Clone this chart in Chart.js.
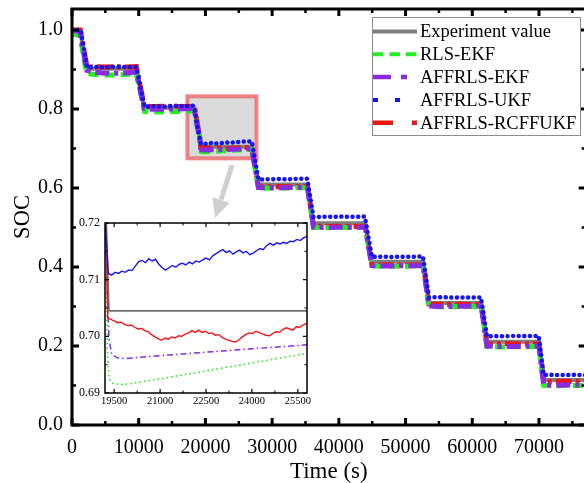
<!DOCTYPE html>
<html>
<head>
<meta charset="utf-8">
<script src="https://cdn.jsdelivr.net/npm/chart.js@4.4.1/dist/chart.umd.min.js"></script>
<style>
  html, body { margin: 0; padding: 0; background: #fff; overflow: hidden; }
  #wrap { position: relative; width: 584px; height: 483px; overflow: hidden; background: #fff; }
  #main { position: absolute; left: 0; top: 0; width: 600px; height: 483px; }
  #inset { position: absolute; left: 68px; top: 213px; width: 245px; height: 197px; }
</style>
</head>
<body>
<div id="wrap">
  <canvas id="main" width="600" height="483"></canvas>
  <canvas id="inset" width="245" height="197"></canvas>
</div>
<script>
// ---- SOC traces (time in s) ----
const seriesNames = ['Experiment value', 'RLS-EKF', 'AFFRLS-EKF', 'AFFRLS-UKF', 'AFFRLS-RCFFUKF'];

const timeExp = [0, 1200, 2200, 9700, 10800, 18350, 19230, 19330, 26950, 27950, 35300, 36200, 43950, 44900,
  52650, 53500, 61350, 62200, 70000, 70700, 77000];
const socExp = [1.0, 1.0, 0.902, 0.902, 0.803, 0.803, 0.7225, 0.7045, 0.7045, 0.609, 0.609, 0.5105, 0.5105, 0.4135,
  0.4135, 0.309, 0.309, 0.211, 0.211, 0.114, 0.114];

const timeRls = [0, 1200, 2150, 3000, 4500, 6000, 8000, 9650, 10900, 12000, 14000, 16000, 18300, 19200, 19280,
  19330, 19450, 19700, 20000, 21000, 22500, 24000, 25800, 26950, 27950, 29000, 31000, 33000, 35300, 36200, 37500,
  40000, 43950, 44950, 47000, 50000, 52650, 53500, 55000, 58000, 61350, 62200, 64000, 67000, 70000, 70700, 72000,
  75000, 77000];
const socRls = [0.99, 0.985, 0.892, 0.888, 0.886, 0.886, 0.887, 0.889, 0.7935, 0.7925, 0.793, 0.7935, 0.7945, 0.722, 0.6975,
  0.6925, 0.6917, 0.6915, 0.6916, 0.6925, 0.6939, 0.6953, 0.6970, 0.6978, 0.6005, 0.5995, 0.5998, 0.6003, 0.6008, 0.5005, 0.4995,
  0.4998, 0.5003, 0.4025, 0.4015, 0.402, 0.4025, 0.3005, 0.2995, 0.2998, 0.3003, 0.1985, 0.1975, 0.198, 0.1985, 0.1005, 0.0995,
  0.1, 0.1003];

const timeAffEkf = [0, 1200, 2200, 3000, 4500, 6000, 8000, 9650, 10800, 12000, 14000, 16000, 18300, 19250, 19330,
  19420, 19600, 19900, 21000, 22500, 24000, 25800, 26950, 27950, 29000, 31000, 33000, 35300, 36200, 37500, 40000,
  43950, 44950, 47000, 50000, 52650, 53500, 55000, 58000, 61350, 62200, 64000, 67000, 70000, 70700, 72000, 75000, 77000];
const socAffEkf = [1.0, 0.995, 0.898, 0.894, 0.891, 0.890, 0.891, 0.893, 0.8015, 0.7995, 0.7995, 0.800, 0.801, 0.7125, 0.6995,
  0.6968, 0.6962, 0.6961, 0.6966, 0.6972, 0.6978, 0.6985, 0.6989, 0.601, 0.6005, 0.6008, 0.601, 0.6013, 0.501, 0.500, 0.5003,
  0.5008, 0.4035, 0.4025, 0.403, 0.4033, 0.3015, 0.300, 0.3003, 0.3008, 0.1995, 0.1985, 0.199, 0.1995, 0.1015, 0.1005, 0.101, 0.1012];

const timeAffUkf = [0, 1300, 2250, 3500, 5000, 6500, 8000, 9650, 10850, 12500, 14000, 15500, 17000, 18250,
  19310, 19420, 19530, 19640, 19750, 19860, 19970, 20080, 20190, 20300, 20410, 20520, 20630, 20740, 20850, 20960,
  21070, 21180, 21290, 21400, 21510, 21620, 21730, 21840, 21950, 22060, 22170, 22280, 22390, 22500, 22610, 22720,
  22830, 22940, 23050, 23160, 23270, 23380, 23490, 23600, 23710, 23820, 23930, 24040, 24150, 24260, 24370, 24480,
  24590, 24700, 24810, 24920, 25030, 25140, 25250, 25360, 25470, 25580, 25690, 25800,
  26400, 26950, 27950, 29500, 31000, 32500, 34000, 35250, 36200, 37500, 39000, 40500, 42000, 43900, 44950, 46500,
  48000, 49500, 51000, 52600, 53500, 55000, 56500, 58000, 59500, 61300, 62200, 63500, 65000, 66500, 68000, 69950,
  70700, 72000, 73500, 75000, 77000];
const socAffUkf = [1.0, 1.0, 0.905, 0.906, 0.905, 0.907, 0.906, 0.906, 0.806, 0.807, 0.806, 0.808, 0.807, 0.808,
  0.7111, 0.7108, 0.7113, 0.7111, 0.7115, 0.7113, 0.7117, 0.7116, 0.7124, 0.7132, 0.7134, 0.7130, 0.7137, 0.7133, 0.7136, 0.7127,
  0.7121, 0.7117, 0.7121, 0.7125, 0.7122, 0.7127, 0.7129, 0.7126, 0.7131, 0.7128, 0.7133, 0.7131, 0.7135, 0.7138, 0.7135, 0.7142,
  0.7146, 0.7150, 0.7153, 0.7148, 0.7151, 0.7145, 0.7149, 0.7152, 0.7147, 0.7150, 0.7144, 0.7147, 0.7151, 0.7155, 0.7153, 0.7160,
  0.7164, 0.7161, 0.7165, 0.7163, 0.7166, 0.7164, 0.7168, 0.7167, 0.7171, 0.7169, 0.7174, 0.7176,
  0.7178, 0.7180, 0.6215, 0.622, 0.6225, 0.622, 0.623, 0.6235, 0.526, 0.527, 0.527, 0.5275, 0.527, 0.5275, 0.4255, 0.426,
  0.4255, 0.426, 0.426, 0.4265, 0.323, 0.3235, 0.323, 0.3225, 0.323, 0.323, 0.2245, 0.225, 0.2245, 0.2255, 0.225, 0.2255,
  0.1265, 0.127, 0.1265, 0.127, 0.1265];

const timeRcff = [0, 1250, 2250, 3500, 5000, 6500, 8000, 9650, 10850, 12500, 14000, 15500, 17000, 18350, 19220,
  19290, 19400, 19510, 19620, 19730, 19840, 19950, 20060, 20170, 20280, 20390, 20500, 20610, 20720, 20830, 20940,
  21050, 21160, 21270, 21380, 21490, 21600, 21710, 21820, 21930, 22040, 22150, 22260, 22370, 22480, 22590, 22700,
  22810, 22920, 23030, 23140, 23250, 23360, 23470, 23580, 23690, 23800, 23910, 24020, 24130, 24240, 24350, 24460,
  24570, 24680, 24790, 24900, 25010, 25120, 25230, 25340, 25450, 25560, 25670, 25800,
  26400, 26950, 27950, 29500, 31000, 32500, 34000, 35300, 36200, 37500, 39000, 40500, 42000, 43950, 44950, 46500,
  48000, 49500, 51000, 52650, 53500, 55000, 56500, 58000, 59500, 61350, 62200, 63500, 65000, 66500, 68000, 70000,
  70700, 72000, 73500, 75000, 77000];
const socRcff = [1.0, 1.0, 0.906, 0.907, 0.906, 0.907, 0.906, 0.907, 0.806, 0.806, 0.807, 0.806, 0.806, 0.806, 0.7215,
  0.7032, 0.7030, 0.7027, 0.7024, 0.7025, 0.7021, 0.7019, 0.7020, 0.7016, 0.7013, 0.7014, 0.7010, 0.7008, 0.7003, 0.6999, 0.6996,
  0.6993, 0.6997, 0.6995, 0.6999, 0.6997, 0.7001, 0.7000, 0.7004, 0.7006, 0.7010, 0.7007, 0.7011, 0.7007, 0.7009, 0.7005, 0.7006,
  0.7002, 0.7003, 0.6998, 0.6995, 0.6993, 0.6991, 0.6990, 0.6994, 0.6999, 0.7003, 0.7006, 0.7005, 0.7009, 0.7007, 0.7004, 0.7002,
  0.7001, 0.7005, 0.7008, 0.7007, 0.7012, 0.7015, 0.7013, 0.7011, 0.7017, 0.7016, 0.7020, 0.7023,
  0.7025, 0.7028, 0.6035, 0.603, 0.6035, 0.603, 0.6035, 0.6035, 0.5035, 0.503, 0.5025, 0.503, 0.5025, 0.503, 0.4055, 0.405,
  0.4055, 0.405, 0.405, 0.4055, 0.306, 0.3055, 0.305, 0.3055, 0.305, 0.3055, 0.2055, 0.205, 0.2055, 0.205, 0.205, 0.2055,
  0.1105, 0.110, 0.1105, 0.110, 0.110];

// tick positions
const mainXTicks = [0, 10000, 20000, 30000, 40000, 50000, 60000, 70000];
const mainYTicks = [0.0, 0.2, 0.4, 0.6, 0.8, 1.0];
const insetXTicks = [19500, 21000, 22500, 24000, 25500];
const insetYTicks = [0.69, 0.70, 0.71, 0.72];

const SERIF = 'Liberation Serif, Times New Roman, serif';
const pts = (t, v) => t.map((x, i) => ({ x, y: v[i] }));

const colors = { exp: '#7f7f7f', rls: '#22ee22', affEkf: '#8a2be2', affUkf: '#1515f0', rcff: '#f01515' };

// ---- plugin: frame with inward major/minor ticks on all four sides ----
function framePlugin(o) {
  return {
    id: 'frameTicks',
    afterDatasetsDraw(chart) {
      const { ctx, chartArea: a, scales: { x, y } } = chart;
      ctx.save();
      ctx.strokeStyle = '#000';
      const inX = v => { const p = x.getPixelForValue(v); return p >= a.left - 0.5 && p <= a.right + 0.5 ? p : null; };
      const inY = v => { const p = y.getPixelForValue(v); return p >= a.top - 0.5 && p <= a.bottom + 0.5 ? p : null; };
      const xt = (vals, len, w) => {
        ctx.lineWidth = w;
        vals.forEach(v => {
          const p = inX(v); if (p === null) return;
          ctx.beginPath();
          ctx.moveTo(p, a.bottom); ctx.lineTo(p, a.bottom - len);
          ctx.moveTo(p, a.top); ctx.lineTo(p, a.top + len);
          ctx.stroke();
        });
      };
      const yt = (vals, len, w) => {
        ctx.lineWidth = w;
        vals.forEach(v => {
          const p = inY(v); if (p === null) return;
          ctx.beginPath();
          ctx.moveTo(a.left, p); ctx.lineTo(a.left + len, p);
          ctx.moveTo(a.right, p); ctx.lineTo(a.right - len, p);
          ctx.stroke();
        });
      };
      const mids = (arr) => {
        const out = [];
        for (let i = 0; i < arr.length - 1; i++) out.push((arr[i] + arr[i + 1]) / 2);
        const st = arr[1] - arr[0];
        out.push(arr[0] - st / 2, arr[arr.length - 1] + st / 2);
        return out;
      };
      xt(o.xMajor, o.majLen, o.majW);
      xt(mids(o.xMajor), o.minLen, o.minW);
      yt(o.yMajor, o.majLen, o.majW);
      yt(mids(o.yMajor), o.minLen, o.minW);
      ctx.lineWidth = o.frame;
      ctx.strokeRect(a.left, a.top, a.right - a.left, a.bottom - a.top);
      ctx.restore();
    }
  };
}

// ---- plugin: zoom box and pointer arrow ----
const zoomBoxPlugin = {
  id: 'zoomBox',
  beforeDatasetsDraw(chart) {
    const { ctx, scales: { x, y } } = chart;
    const x0 = x.getPixelForValue(17300), x1 = x.getPixelForValue(27650);
    const y0 = y.getPixelForValue(0.832), y1 = y.getPixelForValue(0.675);
    ctx.save();
    ctx.fillStyle = 'rgba(205,205,205,0.75)';
    ctx.fillRect(x0, y0, x1 - x0, y1 - y0);
    ctx.strokeStyle = 'rgba(238,110,110,0.85)';
    ctx.lineWidth = 4;
    ctx.strokeRect(x0, y0, x1 - x0, y1 - y0);
    ctx.restore();
  },
  afterDatasetsDraw(chart) {
    const { ctx, scales: { x, y } } = chart;
    const sx = x.getPixelForValue(24000), sy = y.getPixelForValue(0.658);
    const tx = x.getPixelForValue(21450), ty = y.getPixelForValue(0.524);
    const ang = Math.atan2(ty - sy, tx - sx);
    const headLen = 19, headW = 9;
    const bx = tx - headLen * Math.cos(ang), by = ty - headLen * Math.sin(ang);
    ctx.save();
    ctx.strokeStyle = '#cfcfcf';
    ctx.fillStyle = '#cfcfcf';
    ctx.lineWidth = 5;
    ctx.beginPath(); ctx.moveTo(sx, sy); ctx.lineTo(bx, by); ctx.stroke();
    ctx.beginPath();
    ctx.moveTo(tx, ty);
    ctx.lineTo(bx + headW * Math.sin(ang), by - headW * Math.cos(ang));
    ctx.lineTo(bx - headW * Math.sin(ang), by + headW * Math.cos(ang));
    ctx.closePath(); ctx.fill();
    ctx.restore();
  }
};

// ---- plugin: boxed legend ----
const legendPlugin = {
  id: 'boxLegend',
  afterDraw(chart) {
    const { ctx } = chart;
    const styles = [
      { c: colors.exp, w: 4, d: [] },
      { c: colors.rls, w: 4, d: [10.5, 6] },
      { c: colors.affEkf, w: 4.5, d: [18, 10, 6, 20] },
      { c: colors.affUkf, w: 4, d: [5, 17] },
      { c: colors.rcff, w: 4.5, d: [20, 19, 5, 20] }
    ];
    ctx.save();
    ctx.fillStyle = '#fff';
    ctx.fillRect(372.5, 17.5, 208, 118);
    ctx.strokeStyle = '#8c8c8c';
    ctx.lineWidth = 1;
    ctx.strokeRect(372.5, 17.5, 208, 118);
    ctx.font = '18.5px ' + SERIF;
    ctx.textBaseline = 'middle';
    ctx.textAlign = 'left';
    seriesNames.forEach((name, i) => {
      const yy = 31.5 + i * 22.8;
      const s = styles[i];
      ctx.strokeStyle = s.c; ctx.lineWidth = s.w; ctx.setLineDash(s.d);
      ctx.beginPath(); ctx.moveTo(373, yy); ctx.lineTo(417, yy); ctx.stroke();
      ctx.setLineDash([]);
      ctx.fillStyle = '#000';
      ctx.fillText(name, 420, yy + 1);
    });
    ctx.restore();
  }
};

function setTicks(arr) { return s => { s.ticks = arr.map(v => ({ value: v })); }; }
function fixHeight(h) { return s => { s.height = h; s.paddingLeft = 0; s.paddingRight = 0; }; }
function fixWidth(w) { return s => { s.width = w; s.paddingTop = 0; s.paddingBottom = 0; }; }

// ---- main chart ----
new Chart(document.getElementById('main'), {
  type: 'line',
  data: {
    datasets: [
      { label: seriesNames[3], data: pts(timeAffUkf, socAffUkf), borderColor: colors.affUkf, borderWidth: 4.5, borderDash: [0.1, 5.5], borderCapStyle: 'round', order: 1 },
      { label: seriesNames[2], data: pts(timeAffEkf, socAffEkf), borderColor: colors.affEkf, borderWidth: 5, borderDash: [14, 5, 4, 5], order: 2 },
      { label: seriesNames[1], data: pts(timeRls, socRls), borderColor: colors.rls, borderWidth: 5, borderDash: [10, 6], order: 3 },
      { label: seriesNames[4], data: pts(timeRcff, socRcff), borderColor: colors.rcff, borderWidth: 5, borderDash: [16, 4, 4, 4], order: 4 },
      { label: seriesNames[0], data: pts(timeExp, socExp), borderColor: colors.exp, borderWidth: 4, order: 5 }
    ]
  },
  options: {
    responsive: false,
    animation: false,
    devicePixelRatio: 1,
    elements: { point: { radius: 0 }, line: { tension: 0, fill: false } },
    layout: { padding: { top: 9, right: 14.3, bottom: 0, left: 0 } },
    plugins: { legend: { display: false }, tooltip: { enabled: false } },
    scales: {
      x: {
        type: 'linear', min: 0, max: 77000,
        afterBuildTicks: setTicks(mainXTicks),
        afterFit: fixHeight(58),
        grid: { display: false, drawTicks: false },
        border: { display: false },
        ticks: { font: { family: SERIF, size: 20 }, color: '#000', padding: 11, maxRotation: 0, autoSkip: false, callback: v => String(v) },
        title: { display: true, text: 'Time (s)', color: '#000', font: { family: SERIF, size: 23, lineHeight: 1 }, padding: { top: 0, bottom: 0 } }
      },
      y: {
        type: 'linear', min: 0, max: 1.053,
        afterBuildTicks: setTicks(mainYTicks),
        afterFit: fixWidth(72),
        grid: { display: false, drawTicks: false },
        border: { display: false },
        ticks: { font: { family: SERIF, size: 20 }, color: '#000', padding: 9, callback: v => v.toFixed(1) },
        title: { display: true, text: 'SOC', color: '#000', font: { family: SERIF, size: 22.5, lineHeight: 1 }, padding: { top: 12, bottom: 0 } }
      }
    }
  },
  plugins: [zoomBoxPlugin, framePlugin({ xMajor: mainXTicks, yMajor: mainYTicks, majLen: 7, majW: 3, minLen: 4, minW: 2.5, frame: 3 }), legendPlugin]
});

// ---- inset: detail of the 0.7 rest period ----
const insetBg = {
  id: 'insetBg',
  beforeDatasetsDraw(chart) {
    const { ctx, chartArea: a } = chart;
    ctx.save(); ctx.fillStyle = '#fff'; ctx.fillRect(a.left, a.top, a.right - a.left, a.bottom - a.top); ctx.restore();
  }
};

new Chart(document.getElementById('inset'), {
  type: 'line',
  data: {
    datasets: [
      { label: seriesNames[3], data: pts(timeAffUkf, socAffUkf), borderColor: colors.affUkf, borderWidth: 1.4, order: 1 },
      { label: seriesNames[4], data: pts(timeRcff, socRcff), borderColor: colors.rcff, borderWidth: 1.4, order: 2 },
      { label: seriesNames[2], data: pts(timeAffEkf, socAffEkf), borderColor: colors.affEkf, borderWidth: 1.5, borderDash: [6, 3, 1.5, 3], order: 3 },
      { label: seriesNames[1], data: pts(timeRls, socRls), borderColor: colors.rls, borderWidth: 1.6, borderDash: [1.6, 3], order: 4 },
      { label: seriesNames[0], data: pts(timeExp, socExp), borderColor: '#707070', borderWidth: 1.6, order: 5 }
    ]
  },
  options: {
    responsive: false,
    animation: false,
    devicePixelRatio: 1,
    elements: { point: { radius: 0 }, line: { tension: 0, fill: false } },
    layout: { padding: { top: 10, right: 6, bottom: 0, left: 0 } },
    plugins: { legend: { display: false }, tooltip: { enabled: false } },
    scales: {
      x: {
        type: 'linear', min: 19200, max: 25800,
        afterBuildTicks: setTicks(insetXTicks),
        afterFit: fixHeight(17),
        grid: { display: false, drawTicks: false },
        border: { display: false },
        ticks: { font: { family: SERIF, size: 10.5 }, color: '#000', padding: 1.5, maxRotation: 0, autoSkip: false, callback: v => String(v) }
      },
      y: {
        type: 'linear', min: 0.69, max: 0.72,
        afterBuildTicks: setTicks(insetYTicks),
        afterFit: fixWidth(37),
        grid: { display: false, drawTicks: false },
        border: { display: false },
        ticks: { font: { family: SERIF, size: 12 }, color: '#000', padding: 5, callback: v => v.toFixed(2) }
      }
    }
  },
  plugins: [insetBg, framePlugin({ xMajor: insetXTicks, yMajor: insetYTicks, majLen: 4, majW: 1.2, minLen: 2.5, minW: 1, frame: 1.5 })]
});
</script>
</body>
</html>
